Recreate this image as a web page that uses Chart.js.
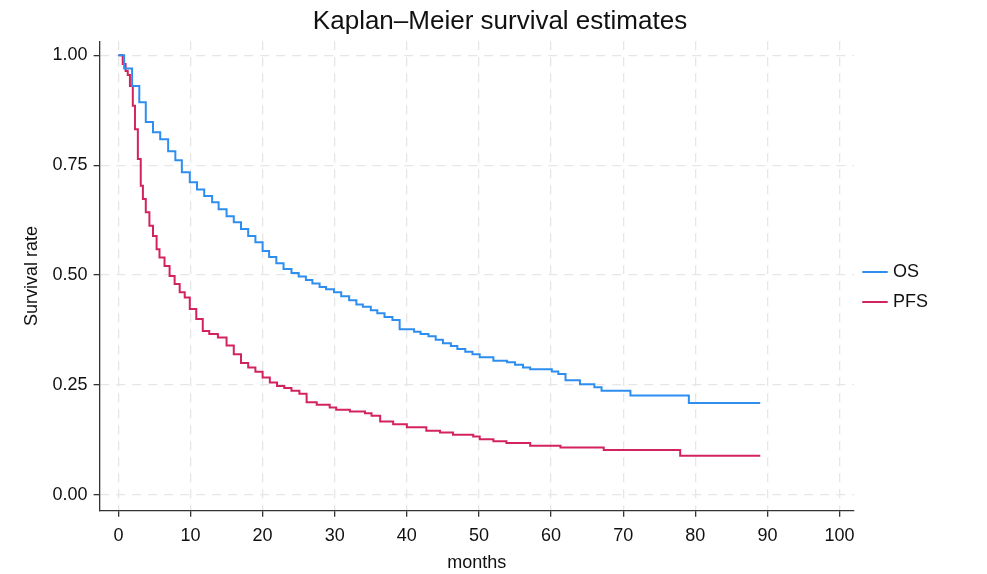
<!DOCTYPE html>
<html>
<head>
<meta charset="utf-8">
<script src="https://cdn.jsdelivr.net/npm/chart.js@4"></script>
<style>
  html, body { margin: 0; padding: 0; background: #fff; }
  #wrap { width: 987px; height: 574px; }
</style>
</head>
<body>
<div id="wrap"><canvas id="km"></canvas></div>
<script>
// Kaplan-Meier estimates: times (months) and survival after each drop
const osMonths = [0, 0.8, 1.9, 2.9, 3.8, 4.8, 5.8, 6.9, 7.9, 8.8, 9.9, 10.9, 11.9, 13, 13.9, 15, 16, 17, 18, 19, 20, 20.9, 21.9, 22.9, 24, 25,
  26.0, 26.9, 27.9, 28.8, 29.9, 30.9, 32.0, 33.0, 33.9, 35.0, 35.9, 36.9, 38.0, 39.0, 41.0, 41.9, 43.0, 44.0, 45.0, 46.1, 47.0, 48.1, 49.1, 50.1,
  52.0, 53.9, 55.0, 56.1, 57.1, 60.1, 61.0, 62.0, 64.0, 66.0, 67.0, 71.0, 79.1, 89.0];
const osSurv = [1, 0.97, 0.93, 0.893, 0.848, 0.825, 0.809, 0.782, 0.761, 0.734, 0.711, 0.695, 0.68, 0.666, 0.65, 0.634, 0.62, 0.605, 0.589, 0.575, 0.555, 0.541, 0.527, 0.514, 0.505, 0.497,
  0.489, 0.481, 0.473, 0.468, 0.461, 0.452, 0.443, 0.433, 0.428, 0.420, 0.413, 0.405, 0.398, 0.377, 0.371, 0.366, 0.361, 0.353, 0.345, 0.339, 0.332, 0.326, 0.320, 0.313,
  0.305, 0.302, 0.296, 0.290, 0.286, 0.281, 0.275, 0.261, 0.252, 0.245, 0.237, 0.226, 0.209, 0.209];

const pfsMonths = [0, 0.6, 1.0, 1.3, 1.6, 2.0, 2.3, 2.7, 3.1, 3.4, 3.8, 4.3, 4.8, 5.3, 5.7, 6.4, 7.1, 7.8, 8.5, 9.2, 9.9, 10.8, 11.7, 12.6, 13.8,
  15, 16, 17, 18, 19, 20, 21, 22, 23, 24, 25.1, 26.1, 27.5, 29.3, 30.2, 32.1, 34.2, 35.1, 36.3, 38.1, 40.0, 42.7, 44.6, 46.4, 49.2, 50.1,
  52.0, 53.8, 57.1, 61.3, 67.3, 77.9, 89.0];
const pfsSurv = [1, 0.98, 0.964, 0.955, 0.93, 0.885, 0.832, 0.764, 0.703, 0.673, 0.643, 0.612, 0.589, 0.559, 0.54, 0.521, 0.498, 0.48, 0.461, 0.449, 0.423, 0.4, 0.373, 0.366, 0.358,
  0.34, 0.32, 0.30, 0.29, 0.28, 0.267, 0.256, 0.248, 0.243, 0.237, 0.230, 0.211, 0.205, 0.199, 0.194, 0.190, 0.186, 0.180, 0.167, 0.161, 0.154, 0.146, 0.142, 0.137, 0.133, 0.127,
  0.122, 0.118, 0.112, 0.108, 0.102, 0.089, 0.089];

const xTicks = [0, 10, 20, 30, 40, 50, 60, 70, 80, 90, 100];
const yTicks = [0, 0.25, 0.5, 0.75, 1];

function toPoints(xs, ys) {
  return xs.map((x, i) => ({ x: x, y: ys[i] }));
}

const fontFam = 'Arial, "Liberation Sans", sans-serif';
const tickFont = { family: fontFam, size: 18 };

new Chart(document.getElementById('km'), {
  type: 'line',
  data: {
    datasets: [
      { label: 'OS', data: toPoints(osMonths, osSurv), borderColor: '#2e8ef0', borderWidth: 2, stepped: 'before', pointRadius: 0 },
      { label: 'PFS', data: toPoints(pfsMonths, pfsSurv), borderColor: '#d3235c', borderWidth: 2, stepped: 'before', pointRadius: 0 }
    ]
  },
  options: {
    responsive: true,
    maintainAspectRatio: false,
    animation: false,
    layout: { padding: { left: 17, right: 4, top: 0, bottom: 0 } },
    plugins: {
      title: { display: true, text: 'Kaplan–Meier survival estimates', color: '#111',
        font: { family: fontFam, size: 26, weight: 'normal' }, padding: { top: 6, bottom: 4 } },
      legend: { position: 'right', align: 'center',
        labels: { usePointStyle: true, pointStyle: 'line', boxWidth: 44, color: '#111', padding: 12,
          font: { family: fontFam, size: 18 } } },
      tooltip: { enabled: false }
    },
    scales: {
      x: {
        type: 'linear', min: -2.6, max: 102,
        afterBuildTicks: s => { s.ticks = xTicks.map(v => ({ value: v })); },
        grid: { color: '#e6e6e6', lineWidth: 1.3, drawTicks: true, tickLength: 6, tickColor: '#333' },
        border: { color: '#333', width: 1.3, dash: [9, 7] },
        ticks: { color: '#111', font: tickFont, padding: 8 },
        title: { display: true, text: 'months', color: '#111', font: tickFont, padding: { top: -2, bottom: 0 } }
      },
      y: {
        min: -0.036, max: 1.032,
        afterBuildTicks: s => { s.ticks = yTicks.map(v => ({ value: v })); },
        grid: { color: '#e6e6e6', lineWidth: 1.3, drawTicks: true, tickLength: 6, tickColor: '#333' },
        border: { color: '#333', width: 1.3, dash: [9, 7] },
        ticks: { color: '#111', font: tickFont, padding: 6, callback: v => v.toFixed(2) },
        title: { display: true, text: 'Survival rate', color: '#111', font: tickFont }
      }
    }
  },
  plugins: [{
    id: 'widerLegend',
    afterInit(chart) {
      const lg = chart.legend;
      const fit = lg.fit;
      lg.fit = function () { fit.call(this); this.width += 45; };
    }
  }]
});
</script>
</body>
</html>
